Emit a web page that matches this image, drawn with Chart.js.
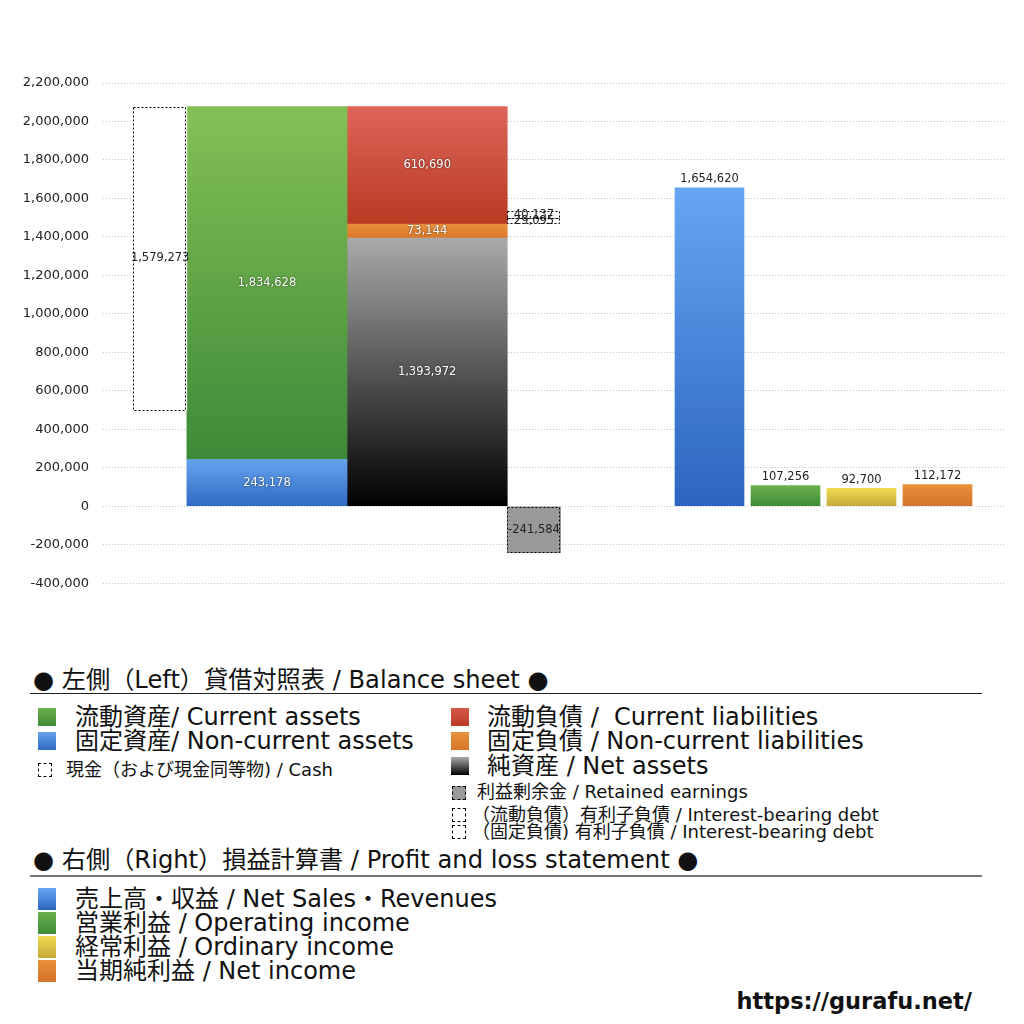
<!DOCTYPE html>
<html lang="ja">
<head>
<meta charset="utf-8">
<title>貸借対照表・損益計算書</title>
<script src="https://cdn.jsdelivr.net/npm/chart.js@4.4.1/dist/chart.umd.min.js"></script>
<style>
  html, body { margin: 0; padding: 0; background: #fff; }
  body { width: 1024px; height: 1024px; position: relative; overflow: hidden;
         font-family: "DejaVu Sans", "Noto Sans CJK JP", sans-serif; color: #111; }
  #chartBox { position: absolute; left: 0; top: 0; width: 1024px; height: 605px; }
  .t { position: absolute; white-space: nowrap; }
  .head { font-size: 24.2px; line-height: 28px; }
  .big { font-size: 24px; line-height: 24px; }
  .pl { font-size: 24px; line-height: 24px; }
  .small { font-size: 18px; line-height: 18px; }
  .sq { position: absolute; width: 18px; height: 18px; }
  .dash { position: absolute; width: 12px; height: 12px; border: 1px dashed #000; background: #fff; }
  .rule { position: absolute; left: 30px; width: 952px; }
  #url { position: absolute; right: 52px; top: 988px; font: bold 22.5px "DejaVu Sans", sans-serif; }
</style>
</head>
<body>
<div id="chartBox"><canvas id="chart"></canvas></div>

<div class="t head" style="left:33px; top:666px">● 左側（Left）貸借対照表 / Balance sheet ●</div>
<div class="rule" style="top:693px; height:1px; background:#222"></div>

<div class="sq" style="left:38px; top:708px; background:linear-gradient(#6bb24c,#3f8a38)"></div>
<div class="t big" style="left:75px; top:705px">流動資産/ Current assets</div>
<div class="sq" style="left:38px; top:732px; background:linear-gradient(#66a3ee,#2e6bc3)"></div>
<div class="t big" style="left:75px; top:729px">固定資産/ Non-current assets</div>
<div class="dash" style="left:38px; top:763px"></div>
<div class="t small" style="left:66px; top:761px">現金（および現金同等物) / Cash</div>

<div class="sq" style="left:451px; top:708px; background:linear-gradient(#d9584b,#b83a22)"></div>
<div class="t big" style="left:487px; top:705px">流動負債 /&nbsp; Current liabilities</div>
<div class="sq" style="left:451px; top:732px; background:linear-gradient(#e8913b,#d9772a)"></div>
<div class="t big" style="left:487px; top:729px">固定負債 / Non-current liabilities</div>
<div class="sq" style="left:451px; top:757px; background:linear-gradient(#a9a9a9,#000)"></div>
<div class="t big" style="left:487px; top:754px">純資産 / Net assets</div>
<div class="dash" style="left:452px; top:786px; background:#999"></div>
<div class="t small" style="left:477px; top:783px">利益剰余金 / Retained earnings</div>
<div class="dash" style="left:452px; top:808px"></div>
<div class="t small" style="left:472px; top:806px">（流動負債）有利子負債 / Interest-bearing debt</div>
<div class="dash" style="left:452px; top:825px"></div>
<div class="t small" style="left:472px; top:823px">（固定負債) 有利子負債 / Interest-bearing debt</div>

<div class="t head" style="left:33px; top:846px">● 右側（Right）損益計算書 / Profit and loss statement ●</div>
<div class="rule" style="top:875px; height:2px; background:#777"></div>

<div class="sq" style="left:38px; top:888px; height:22px; background:linear-gradient(#66a6f2,#2c65bf)"></div>
<div class="t pl" style="left:75px; top:887px">売上高・収益 / Net Sales・Revenues</div>
<div class="sq" style="left:38px; top:912px; height:22px; background:linear-gradient(#6bb34e,#3f8a37)"></div>
<div class="t pl" style="left:75px; top:911px">営業利益 / Operating income</div>
<div class="sq" style="left:38px; top:936px; height:22px; background:linear-gradient(#efdc52,#c6a83a)"></div>
<div class="t pl" style="left:75px; top:935px">経常利益 / Ordinary income</div>
<div class="sq" style="left:38px; top:960px; height:22px; background:linear-gradient(#e9913b,#d4732b)"></div>
<div class="t pl" style="left:75px; top:959px">当期純利益 / Net income</div>

<div id="url">https://gurafu.net/</div>

<script>
// balance sheet (left side)
const bsCategories = ['現金', '資産', '負債・純資産', '有利子負債・利益剰余金'];
const assetNames = ['固定資産', '流動資産'];
const assetValues = [243178, 1834628];
const claimNames = ['純資産', '固定負債', '流動負債'];
const claimValues = [1393972, 73144, 610690];
const cashValues = [1579273];
const debtNames = ['固定負債 有利子負債', '流動負債 有利子負債'];
const debtValues = [29095, 40137];
const retainedValues = [-241584];

// profit and loss (right side)
const plCategories = ['売上高・収益', '営業利益', '経常利益', '当期純利益'];
const plValues = [1654620, 107256, 92700, 112172];

// y axis ticks
const yRange = [-400000, 2200000];
const yStep = 200000;

// colours, top -> bottom of each bar
const assetColors = [['#66a3ee', '#2e6bc3'], ['#84c055', '#3d8a38']];
const claimColors = [['#a9a9a9', '#000000'], ['#e8913b', '#d9772a'], ['#dd6559', '#b83a22']];
const plColors = [['#66a6f2', '#2c65bf'], ['#6bb34e', '#3f8a37'], ['#efdc52', '#c6a83a'], ['#e9913b', '#d4732b']];

// column widths in units of the narrow bar; columns sit side by side
const unitPx = 53.4;
const wide = 3, narrow = 1;
const colX = {};
colX[bsCategories[1]] = 0;
colX[bsCategories[2]] = wide;
colX[bsCategories[0]] = -(wide + narrow) / 2;
colX[bsCategories[3]] = wide + (wide + narrow) / 2;

function gradient(chart, lo, hi, colors) {
  const {ctx, chartArea, scales} = chart;
  if (!chartArea) return colors[0];
  const g = ctx.createLinearGradient(0, scales.y.getPixelForValue(hi), 0, scales.y.getPixelForValue(lo));
  g.addColorStop(0, colors[0]);
  g.addColorStop(1, colors[1]);
  return g;
}

function stackSet(names, values, colors, col) {
  let base = 0;
  return names.map((name, i) => {
    const lo = base;
    base += values[i];
    return {
      label: name,
      xAxisID: 'xbs',
      data: [{x: colX[col], y: [lo, base]}],
      amount: values[i],
      barThickness: wide * unitPx,
      backgroundColor: c => gradient(c.chart, lo, lo + values[i], colors[i]),
      textColor: '#fff',
      textPos: 'center'
    };
  });
}

const totalAssets = assetValues.reduce((a, b) => a + b, 0);
const datasets = [];

datasets.push({
  label: bsCategories[0],
  xAxisID: 'xbs',
  data: [{x: colX[bsCategories[0]], y: [totalAssets - cashValues[0], totalAssets]}],
  amount: cashValues[0],
  barThickness: narrow * unitPx,
  backgroundColor: '#fff',
  dashed: true,
  textColor: '#222',
  textPos: 'center'
});
datasets.push(...stackSet(assetNames, assetValues, assetColors, bsCategories[1]));
datasets.push(...stackSet(claimNames, claimValues, claimColors, bsCategories[2]));

// interest-bearing debt sits on top of the non-current liabilities
let debtBase = claimValues[0] + claimValues[1];
debtNames.forEach((name, i) => {
  datasets.push({
    label: name,
    xAxisID: 'xbs',
    data: [{x: colX[bsCategories[3]], y: [debtBase, debtBase + debtValues[i]]}],
    amount: debtValues[i],
    barThickness: narrow * unitPx,
    backgroundColor: '#fff',
    dashed: true,
    textColor: '#222',
    textPos: 'center'
  });
  debtBase += debtValues[i];
});

datasets.push({
  label: '利益剰余金',
  xAxisID: 'xbs',
  data: [{x: colX[bsCategories[3]], y: [0, retainedValues[0]]}],
  amount: retainedValues[0],
  barThickness: narrow * unitPx,
  backgroundColor: '#999',
  dashed: true,
  textColor: '#222',
  textPos: 'center'
});

datasets.push({
  label: '損益計算書',
  xAxisID: 'xpl',
  data: plValues.map((v, i) => ({x: i, y: v})),
  amounts: plValues,
  barThickness: 69,
  backgroundColor: c => gradient(c.chart, 0, plValues[c.dataIndex], plColors[c.dataIndex]),
  textColor: '#222',
  textPos: 'top'
});

const fmt = v => v.toLocaleString('en-US');

// dashed outlines and value labels
const barText = {
  id: 'barText',
  afterDatasetsDraw(chart) {
    const ctx = chart.ctx;
    chart.data.datasets.forEach((ds, i) => {
      chart.getDatasetMeta(i).data.forEach((bar, j) => {
        const {x, y, base, width} = bar.getProps(['x', 'y', 'base', 'width'], true);
        const top = Math.min(y, base), bottom = Math.max(y, base);
        if (ds.dashed) {
          ctx.save();
          ctx.setLineDash([2, 2]);
          ctx.strokeStyle = '#000';
          ctx.lineWidth = 1;
          ctx.strokeRect(Math.round(x - width / 2) + 0.5, Math.round(top) + 0.5,
                         Math.round(width) - 1, Math.round(bottom - top) - 1);
          ctx.restore();
        }
        const value = ds.amounts ? ds.amounts[j] : ds.amount;
        ctx.save();
        ctx.font = '11.5px "DejaVu Sans", sans-serif';
        ctx.textAlign = 'center';
        ctx.fillStyle = ds.textColor;
        if (ds.textColor === '#fff') {
          ctx.shadowColor = 'rgba(0,0,0,0.7)';
          ctx.shadowBlur = 2;
        }
        if (ds.textPos === 'top') {
          ctx.textBaseline = 'bottom';
          ctx.fillText(fmt(value), x, top - 3);
        } else {
          ctx.textBaseline = 'middle';
          ctx.fillText(fmt(value), x, (top + bottom) / 2);
        }
        ctx.restore();
      });
    });
  }
};

new Chart(document.getElementById('chart'), {
  type: 'bar',
  data: { datasets },
  plugins: [barText],
  options: {
    responsive: true,
    maintainAspectRatio: false,
    animation: false,
    grouped: false,
    // bottom edge is held by the y tick padding (label half-height + 14)
    layout: { padding: { top: 83, bottom: 0, left: 0, right: 19 } },
    plugins: { legend: { display: false }, tooltip: { enabled: false } },
    scales: {
      xbs: { type: 'linear', display: false, offset: false, min: -3.07, max: 13.82 },
      xpl: { type: 'linear', display: false, offset: false, min: -7.98, max: 3.888 },
      y: {
        min: yRange[0],
        max: yRange[1],
        ticks: {
          stepSize: yStep,
          padding: 14,
          color: '#222',
          font: { family: 'DejaVu Sans', size: 13 },
          callback: v => fmt(v)
        },
        grid: { color: '#c4c4c4', drawTicks: false },
        border: { display: false, dash: [1, 2] },
        afterFit: s => { s.width = 103; }
      }
    }
  }
});
</script>
</body>
</html>
